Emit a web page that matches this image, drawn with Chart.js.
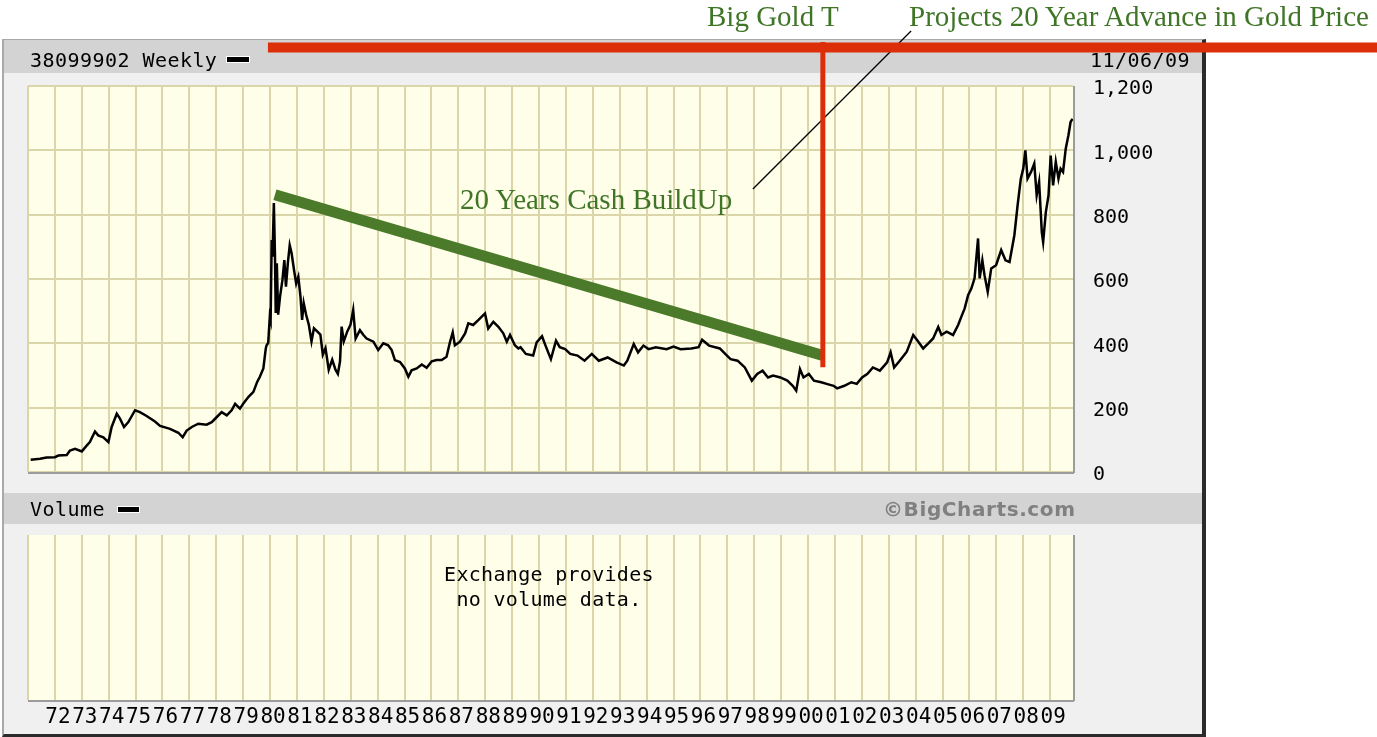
<!DOCTYPE html>
<html><head><meta charset="utf-8">
<script src="https://cdn.jsdelivr.net/npm/chart.js@4.4.1/dist/chart.umd.min.js"></script>
<style>
html,body{margin:0;padding:0;background:#fff;width:1377px;height:737px;overflow:hidden;position:relative;}
#frame{position:absolute;left:2px;top:39px;width:1198px;height:694px;background:#f0f0f0;border-top:1px solid #a9a9a9;border-left:2px solid #a9a9a9;border-right:4px solid #2b2b2b;border-bottom:3px solid #2b2b2b;z-index:0;}
.band{position:absolute;left:4px;width:1198px;background:#d3d3d3;z-index:1;}
canvas{position:absolute;left:0;top:0;}
.mono{position:absolute;font-family:'DejaVu Sans Mono',monospace;font-size:20px;line-height:20px;letter-spacing:0.45px;color:#000;white-space:pre;z-index:5;}
.swatch{position:absolute;background:#000;border:1px solid #fff;z-index:5;}
.note{position:absolute;font-family:'Liberation Serif','Times New Roman',serif;font-size:29px;line-height:29px;color:#3f7526;white-space:pre;z-index:5;}
#copy{position:absolute;font-family:'DejaVu Sans',Verdana,sans-serif;font-weight:bold;font-size:20px;line-height:20px;letter-spacing:0.6px;color:#808080;left:883px;top:499px;z-index:5;white-space:pre;}
#novol{position:absolute;font-family:'DejaVu Sans Mono',monospace;font-size:20px;line-height:25px;letter-spacing:0.3px;text-align:center;left:399px;width:300px;top:562px;z-index:5;white-space:pre;}
</style></head>
<body>
<div id="frame"></div>
<div class="band" style="top:40px;height:33px;"></div>
<div class="band" style="top:493px;height:31px;"></div>
<canvas id="cB" width="1377" height="737" style="z-index:2"></canvas>
<canvas id="cA" width="1377" height="737" style="z-index:3"></canvas>
<div class="mono" style="left:30px;top:50px;">38099902 Weekly</div>
<div class="swatch" style="left:226px;top:56px;width:22px;height:5px;"></div>
<div class="mono" style="left:1090px;top:50px;">11/06/09</div>
<div class="mono" style="left:30px;top:499px;">Volume</div>
<div class="swatch" style="left:117px;top:506px;width:21px;height:5px;"></div>
<div id="copy">©BigCharts.com</div>
<div id="novol">Exchange provides
no volume data.</div>
<div class="note" style="left:707px;top:2px;">Big Gold T</div>
<div class="note" style="left:909px;top:2px;">Projects 20 Year Advance in Gold Price</div>
<div class="note" style="left:460px;top:185px;">20 Years Cash BuildUp</div>
<script>
// ---- price data (weekly close) ----
const years70s = [1971.10,1971.45,1971.69,1972.00,1972.13,1972.44,1972.56,1972.75,1973.00,1973.18,1973.30,1973.49,1973.61,1973.80,1973.99,1974.11,1974.30,1974.42,1974.57,1974.73,1974.98,1975.16,1975.41,1975.72,1975.91,1976.28,1976.59,1976.75,1976.90,1977.09,1977.33,1977.64,1977.83,1978.02,1978.20,1978.39,1978.57,1978.70,1978.88,1979.00,1979.19,1979.38,1979.52,1979.62,1979.75,1979.84,1979.87,1979.93,1979.99];
const prices70s = [38,41,45,46,51,53,67,72,64,82,93,126,114,108,93,140,181,166,140,155,192,186,174,157,143,134,122,108,129,140,150,147,155,171,186,176,192,212,197,212,233,249,280,296,322,384,394,401,483];

const years80s = [1980.02,1980.06,1980.09,1980.14,1980.18,1980.21,1980.25,1980.30,1980.37,1980.46,1980.53,1980.59,1980.66,1980.73,1980.80,1980.89,1980.97,1981.05,1981.13,1981.19,1981.25,1981.34,1981.44,1981.54,1981.63,1981.75,1981.87,1981.96,1982.06,1982.18,1982.31,1982.43,1982.52,1982.60,1982.66,1982.74,1982.87,1982.99,1983.09,1983.18,1983.34,1983.47,1983.59,1983.84,1984.02,1984.21,1984.39,1984.52,1984.64,1984.83,1985.01,1985.14,1985.26,1985.45,1985.64,1985.82,1986.01,1986.19,1986.38,1986.56,1986.69,1986.79,1986.87,1987.06,1987.25,1987.37,1987.55,1987.74,1987.99,1988.11,1988.30,1988.48,1988.67,1988.80,1988.92,1989.10,1989.23,1989.31,1989.51,1989.78,1989.91];
const prices80s = [472,721,669,836,680,494,649,489,545,597,659,576,649,705,680,628,586,607,545,473,525,489,458,406,447,437,427,365,385,318,349,318,305,344,452,406,437,458,504,415,441,426,415,405,379,400,394,379,348,342,322,296,316,322,334,324,344,348,348,358,405,434,394,405,431,462,457,472,493,446,467,452,431,405,426,394,384,388,367,362,403];

const years90s = [1990.11,1990.24,1990.44,1990.63,1990.77,1990.97,1991.16,1991.43,1991.69,1991.96,1992.22,1992.55,1992.88,1993.15,1993.28,1993.52,1993.68,1993.88,1994.07,1994.34,1994.74,1995.00,1995.26,1995.66,1995.93,1996.06,1996.32,1996.72,1996.92,1997.12,1997.38,1997.65,1997.91,1998.11,1998.31,1998.51,1998.70,1998.97,1999.23,1999.43,1999.56,1999.70,1999.83];
const prices90s = [422,393,351,408,388,382,367,362,346,367,346,356,341,331,346,398,372,393,382,388,382,390,382,384,388,411,393,384,367,351,346,325,284,305,315,294,300,294,284,268,253,320,294];

const years00s = [2000.03,2000.22,2000.49,2000.69,2000.95,2001.08,2001.35,2001.61,2001.81,2002.01,2002.21,2002.41,2002.67,2002.94,2003.07,2003.20,2003.40,2003.67,2003.91,2004.10,2004.28,2004.47,2004.65,2004.84,2004.96,2005.15,2005.39,2005.58,2005.70,2005.82,2005.95,2006.07,2006.19,2006.32,2006.38,2006.48,2006.56,2006.68,2006.81,2006.99,2007.18,2007.34,2007.49,2007.67,2007.79,2007.91,2008.00,2008.08,2008.16,2008.29,2008.41,2008.50,2008.59,2008.69,2008.74,2008.84,2008.94,2009.02,2009.11,2009.21,2009.31,2009.39,2009.48,2009.58,2009.68,2009.76,2009.83];
const prices00s = [305,284,279,274,268,260,268,279,274,294,305,325,315,341,372,325,345,374,426,405,384,400,415,451,426,436,426,457,483,508,550,570,602,726,602,658,612,560,633,643,690,658,653,736,829,912,943,1000,912,933,959,860,902,746,715,808,860,984,891,964,912,943,933,1005,1047,1088,1098];

// ---- axes ----
const tickYears = [1971,1972,1973,1974,1975,1976,1977,1978,1979,1980,1981,1982,1983,1984,1985,1986,1987,1988,1989,1990,1991,1992,1993,1994,1995,1996,1997,1998,1999,2000,2001,2002,2003,2004,2005,2006,2007,2008,2009];
const tickLabels = ['','72','73','74','75','76','77','78','79','80','81','82','83','84','85','86','87','88','89','90','91','92','93','94','95','96','97','98','99','00','01','02','03','04','05','06','07','08','09'];
const priceTicks = [0,200,400,600,800,1000,1200];
const priceTickLabels = ['0','200','400','600','800','1,000','1,200'];

// ---- annotation lines (data coordinates) ----
const trendYears = [1980.18, 2000.55];
const trendPrices = [862, 362];
const tStemYears = [2000.55, 2000.55];
const tStemPrices = [326, 1337];
const tBarYears = [1979.92, 2021.4];
const tBarPrices = [1320, 1320];
const pointerYears = [1997.95, 2003.83];
const pointerPrices = [880, 1371];

const zip = (xs, ys) => xs.map((x, i) => ({x, y: ys[i]}));
const allYears = years70s.concat(years80s, years90s, years00s);
const allPrices = prices70s.concat(prices80s, prices90s, prices00s);

const GRID = '#dad6aa';
const PLOT_BG = '#fffee9';
const RED = '#dc2e08';
const GREEN = '#4a7a2a';

const panelPlugin = {
  id: 'panel',
  beforeDraw(c) {
    const a = c.chartArea, ctx = c.ctx;
    ctx.save();
    ctx.fillStyle = PLOT_BG;
    ctx.fillRect(a.left, a.top, a.right - a.left, a.bottom - a.top);
    ctx.restore();
  },
  beforeDatasetsDraw(c) {
    const a = c.chartArea, ctx = c.ctx;
    ctx.save();
    ctx.strokeStyle = '#9c9c9c';
    ctx.lineWidth = 2;
    ctx.beginPath();
    ctx.moveTo(a.left, a.bottom + 1); ctx.lineTo(a.right + 1, a.bottom + 1);
    ctx.moveTo(a.right + 1, a.top); ctx.lineTo(a.right + 1, a.bottom + 1);
    ctx.stroke();
    ctx.restore();
  }
};

const xScaleBase = {
  type: 'linear', min: 1971, max: 2009.85,
  afterBuildTicks: s => { s.ticks = tickYears.map(v => ({value: v})); },
  grid: {color: GRID, lineWidth: 2, drawTicks: false},
  border: {display: false}
};

const line = (data, color, width, extra) => Object.assign({
  data, borderColor: color, borderWidth: width, pointRadius: 0, tension: 0,
  borderCapStyle: 'butt', fill: false
}, extra || {});

new Chart(document.getElementById('cA'), {
  type: 'line',
  data: {datasets: [
    line(zip(tStemYears, tStemPrices), RED, 5, {clip: false}),
    line(zip(tBarYears, tBarPrices), RED, 10, {clip: false}),
    line(zip(trendYears, trendPrices), GREEN, 11, {clip: false}),
    line(zip(pointerYears, pointerPrices), '#000', 1.3, {clip: false}),
    line(zip(allYears, allPrices), '#000', 2.5, {borderJoinStyle: 'miter'})
  ]},
  options: {
    responsive: false, animation: false, events: [],
    layout: {padding: {left: 28, top: 86, right: 184, bottom: 265}},
    plugins: {legend: {display: false}, tooltip: {enabled: false}},
    scales: {
      x: Object.assign({}, xScaleBase, {
        ticks: {display: false},
        afterFit: s => { s.height = 0; }
      }),
      y: {
        position: 'right', min: 0, max: 1200,
        afterBuildTicks: s => { s.ticks = priceTicks.map(v => ({value: v})); },
        ticks: {
          color: '#000', padding: 20, labelOffset: 3,
          font: {family: 'DejaVu Sans Mono', size: 20},
          callback: v => priceTickLabels[priceTicks.indexOf(v)]
        },
        grid: {color: GRID, lineWidth: 2, drawTicks: false},
        border: {display: false},
        afterFit: s => { s.width = 120; }
      }
    }
  },
  plugins: [panelPlugin]
});

new Chart(document.getElementById('cB'), {
  type: 'line',
  data: {datasets: []},
  options: {
    responsive: false, animation: false, events: [],
    layout: {padding: {left: 28, top: 535, right: 304, bottom: 0}},
    plugins: {legend: {display: false}, tooltip: {enabled: false}},
    scales: {
      x: Object.assign({}, xScaleBase, {
        position: 'bottom',
        ticks: {
          display: true, autoSkip: false, maxRotation: 0, minRotation: 0,
          labelOffset: 3, padding: 5, color: '#000',
          font: {family: 'DejaVu Sans Mono', size: 21},
          callback: v => tickLabels[tickYears.indexOf(v)]
        },
        afterFit: s => { s.height = 37; }
      }),
      y: {display: false, min: 0, max: 1}
    }
  },
  plugins: [panelPlugin]
});
</script>
</body></html>
